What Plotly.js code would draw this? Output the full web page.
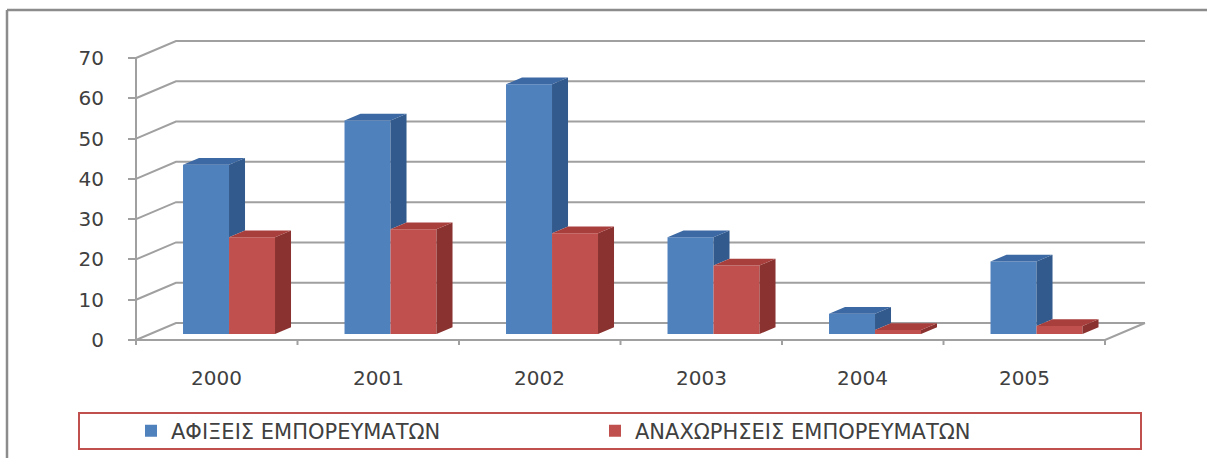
<!DOCTYPE html>
<html>
<head>
<meta charset="utf-8">
<script src="https://cdn.plot.ly/plotly-3.0.1.min.js"></script>
<style>
  html, body { margin: 0; padding: 0; background: #ffffff; }
  #chart { width: 1207px; height: 458px; }
</style>
</head>
<body>
<div id="chart"></div>
<script>
// ---- data ----
const years = ['2000', '2001', '2002', '2003', '2004', '2005'];
const arrivals = [42, 53, 62, 24, 5, 18];      // ΑΦΙΞΕΙΣ ΕΜΠΟΡΕΥΜΑΤΩΝ
const departures = [24, 26, 25, 17, 1, 2];     // ΑΝΑΧΩΡΗΣΕΙΣ ΕΜΠΟΡΕΥΜΑΤΩΝ
const seriesNames = ['ΑΦΙΞΕΙΣ ΕΜΠΟΡΕΥΜΑΤΩΝ', 'ΑΝΑΧΩΡΗΣΕΙΣ ΕΜΠΟΡΕΥΜΑΤΩΝ'];
const yTicks = [0, 10, 20, 30, 40, 50, 60, 70];

// ---- geometry (page-pixel based 3D projection) ----
const W = 1207, H = 458;
const originX = 136, originY = 340;        // front-left floor corner (px)
const pxPerCat = 161.5;                    // px per category
const pxPerVal = 282 / 70;                 // px per value unit
const DX = 40 / pxPerCat, DY = 17 / pxPerVal;   // full depth offset
const f1 = 6 / 17, fd = 0.4;               // bar front depth, bar depth
const bdx = fd * DX, bdy = fd * DY;
const shiftX = f1 * DX, base0 = f1 * DY;
const barW = 46 / pxPerCat;
const barL0 = 32.9 / pxPerCat + shiftX;
const nCat = years.length;

const xr = [-originX / pxPerCat, (W - originX) / pxPerCat];
const yr = [-(H - originY) / pxPerVal, originY / pxPerVal];

const colors = {
  front: ['#4f81bd', '#c0504d'],
  side:  ['#335a8c', '#8a3230'],
  top:   ['#3c69a3', '#a83f3c']
};

const vals = [arrivals, departures];
const barTraces = [], faceTraces = [];

for (let s = 0; s < 2; s++) {
  // front faces as bars
  barTraces.push({
    type: 'bar', name: seriesNames[s],
    x: years.map((_, i) => i + barL0 + s * barW + barW / 2),
    y: vals[s], base: base0, width: barW,
    marker: {color: colors.front[s], line: {width: 0}},
    customdata: years, hovertemplate: '%{customdata}: %{y}<extra>' + seriesNames[s] + '</extra>'
  });
  // top & side faces (scatter fills)
  const topX = [], topY = [], sideX = [], sideY = [];
  for (let i = 0; i < nCat; i++) {
    const v = vals[s][i];
    const L = i + barL0 + s * barW, R = L + barW;
    const yt = base0 + v;
    topX.push(L, R, R + bdx, L + bdx, L, null);
    topY.push(yt, yt, yt + bdy, yt + bdy, yt, null);
    let yb = base0;
    if (s === 0) yb = base0 + Math.min(departures[i], v);
    sideX.push(R, R, R + bdx, R + bdx, R, null);
    sideY.push(yb, yt, yt + bdy, yb + bdy, yb, null);
  }
  faceTraces.push({
    type: 'scatter', mode: 'lines', x: sideX, y: sideY, fill: 'toself',
    fillcolor: colors.side[s], line: {width: 0}, showlegend: false, hoverinfo: 'skip'
  });
  faceTraces.push({
    type: 'scatter', mode: 'lines', x: topX, y: topY, fill: 'toself',
    fillcolor: colors.top[s], line: {width: 0}, showlegend: false, hoverinfo: 'skip'
  });
}
const traces = barTraces.concat(faceTraces);

// ---- shapes: walls, grid, axes ----
const gridColor = '#a0a0a0';
const shapes = [];
yTicks.forEach(v => {
  shapes.push({type: 'path', layer: 'below',
    path: `M 0,${v} L ${DX},${v + DY} L ${nCat + DX},${v + DY}`,
    line: {color: gridColor, width: 2}});
});
// floor front edge and right edge
shapes.push({type: 'path', layer: 'below',
  path: `M 0,0 L ${nCat},0 L ${nCat + DX},${DY}`, line: {color: gridColor, width: 2}});
// front vertical value axis
const tickDown = 5 / pxPerVal;
shapes.push({type: 'line', layer: 'below', x0: 0, x1: 0, y0: -tickDown, y1: yTicks[yTicks.length - 1],
  line: {color: gridColor, width: 2}});
// category boundary tick marks
for (let k = 1; k <= nCat; k++) {
  shapes.push({type: 'line', layer: 'below', x0: k, x1: k, y0: 0, y1: -tickDown,
    line: {color: gridColor, width: 2}});
}
// outer frame (top + left)
shapes.push({type: 'line', xref: 'paper', yref: 'paper', x0: 7 / W, x1: 1, y0: 1 - 10 / H, y1: 1 - 10 / H,
  line: {color: '#8c8c8c', width: 2.5}});
shapes.push({type: 'line', xref: 'paper', yref: 'paper', x0: 7 / W, x1: 7 / W, y0: 0, y1: 1 - 10 / H,
  line: {color: '#8c8c8c', width: 2.5}});
// legend box
shapes.push({type: 'rect', xref: 'paper', yref: 'paper', x0: 79 / W, x1: 1141 / W, y0: 1 - 449 / H, y1: 1 - 413 / H,
  line: {color: '#c0504d', width: 2}, fillcolor: 'rgba(0,0,0,0)'});

// year labels
const annotations = years.map((yv, i) => ({
  x: i + 0.5, y: -(378 - originY) / pxPerVal, xref: 'x', yref: 'y', text: yv, showarrow: false,
  font: {family: 'DejaVu Sans', size: 20, color: '#404040'}, xanchor: 'center', yanchor: 'middle'
}));

const layout = {
  width: W, height: H,
  margin: {l: 0, r: 0, t: 0, b: 0},
  paper_bgcolor: '#ffffff', plot_bgcolor: '#ffffff',
  barmode: 'overlay',
  showlegend: true,
  xaxis: {range: xr, visible: false, fixedrange: true},
  yaxis: {
    range: yr, anchor: 'free', position: originX / W, side: 'left',
    tickvals: yTicks, ticks: 'outside', ticklen: 8, tickwidth: 2, tickcolor: gridColor,
    showgrid: false, zeroline: false, showline: false, ticklabelstandoff: 20,
    tickfont: {family: 'DejaVu Sans', size: 20, color: '#404040'}, fixedrange: true
  },
  legend: {
    orientation: 'h', x: 131 / W, y: 1 - 431 / H, xanchor: 'left', yanchor: 'middle',
    entrywidth: 419, entrywidthmode: 'pixels',
    font: {family: 'DejaVu Sans', size: 21, color: '#404040'},
    bgcolor: 'rgba(0,0,0,0)', traceorder: 'normal'
  },
  shapes: shapes,
  annotations: annotations
};

Plotly.newPlot('chart', traces, layout, {displayModeBar: false, staticPlot: true});
</script>
</body>
</html>
